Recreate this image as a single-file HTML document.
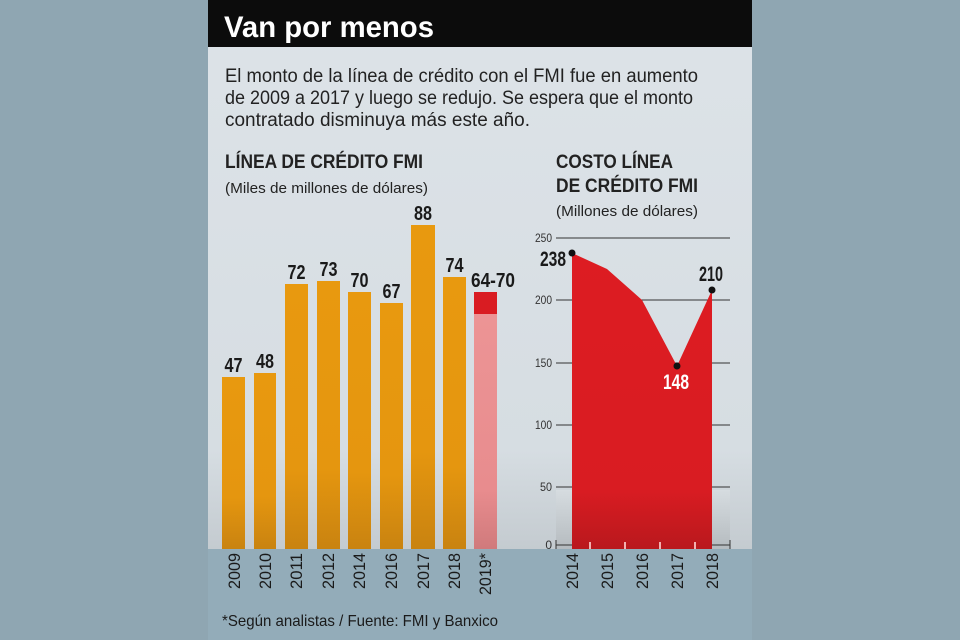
<!DOCTYPE html>
<html><head><meta charset="utf-8"><style>
html,body{margin:0;padding:0;background:#8fa6b2;}
svg{display:block;font-family:"Liberation Sans",sans-serif;}
</style></head><body>
<svg width="960" height="640" viewBox="0 0 960 640" xmlns="http://www.w3.org/2000/svg">
<defs>
<linearGradient id="bg" x1="0" y1="0" x2="0" y2="1">
<stop offset="0" stop-color="#dde3e8"/><stop offset="0.82" stop-color="#d6dde2"/><stop offset="1" stop-color="#c4cbd0"/>
</linearGradient>
<linearGradient id="org" x1="0" y1="0" x2="0" y2="1">
<stop offset="0" stop-color="#e8990f"/><stop offset="0.7" stop-color="#e5960f"/><stop offset="1" stop-color="#c98310"/>
</linearGradient>
<linearGradient id="pk" x1="0" y1="0" x2="0" y2="1">
<stop offset="0" stop-color="#ec9495"/><stop offset="0.75" stop-color="#e88c8e"/><stop offset="1" stop-color="#d07a7c"/>
</linearGradient>
<linearGradient id="rd" x1="0" y1="0" x2="0" y2="1">
<stop offset="0" stop-color="#dd1c22"/><stop offset="0.8" stop-color="#d91c22"/><stop offset="1" stop-color="#b9181d"/>
</linearGradient>
<linearGradient id="gb" x1="0" y1="0" x2="0" y2="1">
<stop offset="0" stop-color="#d6dce0"/><stop offset="1" stop-color="#b5bbbf"/>
</linearGradient>
</defs>
<rect x="0" y="0" width="960" height="640" fill="#8fa6b2"/>
<rect x="208" y="0" width="544" height="549" fill="url(#bg)"/>
<rect x="208" y="549" width="544" height="91" fill="#93acb9"/>
<rect x="208" y="0" width="544" height="47" fill="#0c0c0c"/>
<text x="224" y="37" font-size="30" font-weight="bold" fill="#fff" textLength="210" lengthAdjust="spacingAndGlyphs">Van por menos</text>
<g font-size="19" fill="#222">
<text x="225" y="82" textLength="473" lengthAdjust="spacingAndGlyphs">El monto de la línea de crédito con el FMI fue en aumento</text>
<text x="225" y="104" textLength="468" lengthAdjust="spacingAndGlyphs">de 2009 a 2017 y luego se redujo. Se espera que el monto</text>
<text x="225" y="126" textLength="305" lengthAdjust="spacingAndGlyphs">contratado disminuya más este año.</text>
</g>
<text x="225" y="168" font-size="19" font-weight="bold" fill="#222" textLength="198" lengthAdjust="spacingAndGlyphs">LÍNEA DE CRÉDITO FMI</text>
<text x="225" y="193" font-size="15" fill="#222" textLength="203" lengthAdjust="spacingAndGlyphs">(Miles de millones de dólares)</text>
<text x="556" y="168" font-size="19" font-weight="bold" fill="#222" textLength="117" lengthAdjust="spacingAndGlyphs">COSTO LÍNEA</text>
<text x="556" y="192" font-size="19" font-weight="bold" fill="#222" textLength="142" lengthAdjust="spacingAndGlyphs">DE CRÉDITO FMI</text>
<text x="556" y="216" font-size="15" fill="#222" textLength="142" lengthAdjust="spacingAndGlyphs">(Millones de dólares)</text>

<!-- bars -->
<g fill="url(#org)">
<rect x="222" y="377" width="23" height="172"/>
<rect x="254" y="373" width="22" height="176"/>
<rect x="285" y="284" width="23" height="265"/>
<rect x="317" y="281" width="23" height="268"/>
<rect x="348" y="292" width="23" height="257"/>
<rect x="380" y="303" width="23" height="246"/>
<rect x="411" y="225" width="24" height="324"/>
<rect x="443" y="277" width="23" height="272"/>
</g>
<rect x="474" y="314" width="23" height="235" fill="url(#pk)"/>
<rect x="474" y="292" width="23" height="22" fill="#d91c22"/>
<g font-size="20" font-weight="bold" fill="#1a1a1a" text-anchor="middle">
<text x="233.5" y="372" textLength="18" lengthAdjust="spacingAndGlyphs">47</text>
<text x="265" y="368" textLength="18" lengthAdjust="spacingAndGlyphs">48</text>
<text x="296.5" y="279" textLength="18" lengthAdjust="spacingAndGlyphs">72</text>
<text x="328.5" y="276" textLength="18" lengthAdjust="spacingAndGlyphs">73</text>
<text x="359.5" y="287" textLength="18" lengthAdjust="spacingAndGlyphs">70</text>
<text x="391.5" y="298" textLength="18" lengthAdjust="spacingAndGlyphs">67</text>
<text x="423" y="220" textLength="18" lengthAdjust="spacingAndGlyphs">88</text>
<text x="454.5" y="272" textLength="18" lengthAdjust="spacingAndGlyphs">74</text>
<text x="493" y="287" textLength="44" lengthAdjust="spacingAndGlyphs">64-70</text>
</g>
<g font-size="17" fill="#1a1a1a" text-anchor="end">
<text transform="translate(240,553) rotate(-90)" textLength="36" lengthAdjust="spacingAndGlyphs">2009</text>
<text transform="translate(271,553) rotate(-90)" textLength="36" lengthAdjust="spacingAndGlyphs">2010</text>
<text transform="translate(302,553) rotate(-90)" textLength="36" lengthAdjust="spacingAndGlyphs">2011</text>
<text transform="translate(334,553) rotate(-90)" textLength="36" lengthAdjust="spacingAndGlyphs">2012</text>
<text transform="translate(365,553) rotate(-90)" textLength="36" lengthAdjust="spacingAndGlyphs">2014</text>
<text transform="translate(397,553) rotate(-90)" textLength="36" lengthAdjust="spacingAndGlyphs">2016</text>
<text transform="translate(429,553) rotate(-90)" textLength="36" lengthAdjust="spacingAndGlyphs">2017</text>
<text transform="translate(460,553) rotate(-90)" textLength="36" lengthAdjust="spacingAndGlyphs">2018</text>
<text transform="translate(491,553) rotate(-90)" textLength="42" lengthAdjust="spacingAndGlyphs">2019*</text>
</g>

<!-- right chart -->
<rect x="556" y="490" width="174" height="59" fill="url(#gb)"/>
<g stroke="#333" stroke-width="1">
<line x1="556" y1="238" x2="730" y2="238"/>
<line x1="556" y1="300" x2="730" y2="300"/>
<line x1="556" y1="363" x2="730" y2="363"/>
<line x1="556" y1="425" x2="730" y2="425"/>
<line x1="556" y1="487" x2="730" y2="487"/>
<line x1="556" y1="545" x2="730" y2="545"/>
<line x1="556" y1="540" x2="556" y2="549"/>
<line x1="730" y1="540" x2="730" y2="549"/>
</g>
<g font-size="12" fill="#333" text-anchor="end">
<text x="552" y="242" textLength="17" lengthAdjust="spacingAndGlyphs">250</text>
<text x="552" y="304" textLength="17" lengthAdjust="spacingAndGlyphs">200</text>
<text x="552" y="367" textLength="17" lengthAdjust="spacingAndGlyphs">150</text>
<text x="552" y="429" textLength="17" lengthAdjust="spacingAndGlyphs">100</text>
<text x="552" y="491" textLength="12" lengthAdjust="spacingAndGlyphs">50</text>
<text x="552" y="549">0</text>
</g>
<polygon points="572,253 607,269 642,300 677,366 712,290 712,549 572,549" fill="url(#rd)"/>
<g stroke="#f3b0b0" stroke-width="2">
<line x1="590" y1="542" x2="590" y2="549"/>
<line x1="625" y1="542" x2="625" y2="549"/>
<line x1="660" y1="542" x2="660" y2="549"/>
<line x1="695" y1="542" x2="695" y2="549"/>
</g>
<g fill="#111"><circle cx="572" cy="253" r="3.5"/><circle cx="677" cy="366" r="3.5"/><circle cx="712" cy="290" r="3.5"/></g>
<g font-size="21" font-weight="bold" text-anchor="middle">
<text x="553" y="266" fill="#1a1a1a" textLength="26" lengthAdjust="spacingAndGlyphs">238</text>
<text x="711" y="281" fill="#1a1a1a" textLength="24" lengthAdjust="spacingAndGlyphs">210</text>
<text x="676" y="389" fill="#fff" textLength="26" lengthAdjust="spacingAndGlyphs">148</text>
</g>
<g font-size="17" fill="#1a1a1a" text-anchor="end">
<text transform="translate(578,553) rotate(-90)" textLength="36" lengthAdjust="spacingAndGlyphs">2014</text>
<text transform="translate(613,553) rotate(-90)" textLength="36" lengthAdjust="spacingAndGlyphs">2015</text>
<text transform="translate(648,553) rotate(-90)" textLength="36" lengthAdjust="spacingAndGlyphs">2016</text>
<text transform="translate(683,553) rotate(-90)" textLength="36" lengthAdjust="spacingAndGlyphs">2017</text>
<text transform="translate(718,553) rotate(-90)" textLength="36" lengthAdjust="spacingAndGlyphs">2018</text>
</g>
<text x="222" y="626" font-size="16" fill="#1a1a1a" textLength="276" lengthAdjust="spacingAndGlyphs">*Según analistas  / Fuente: FMI y Banxico</text>
</svg>
</body></html>
